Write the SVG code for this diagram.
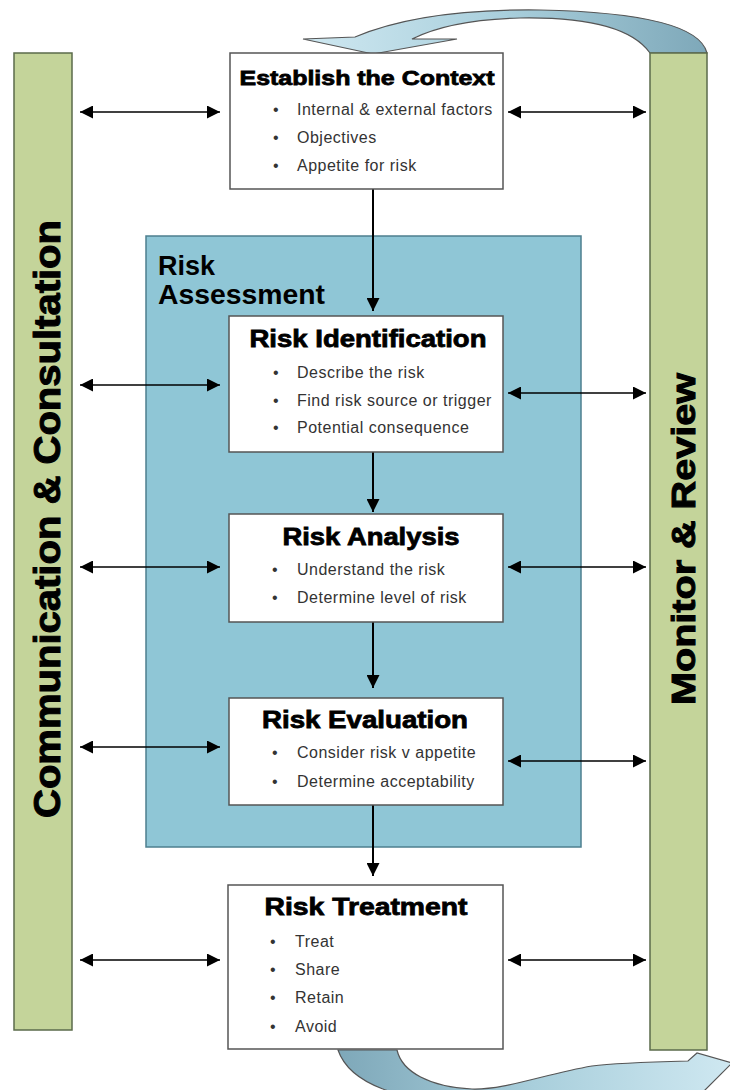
<svg xmlns="http://www.w3.org/2000/svg" width="730" height="1090" viewBox="0 0 730 1090">
<defs>
<linearGradient id="gTop" x1="0" y1="0" x2="1" y2="0">
<stop offset="0" stop-color="#cfe8f1"/>
<stop offset="0.5" stop-color="#a9cfdc"/>
<stop offset="1" stop-color="#7ea8b9"/>
</linearGradient>
<linearGradient id="gBot" x1="0" y1="0" x2="1" y2="0">
<stop offset="0" stop-color="#7ea8b9"/>
<stop offset="0.5" stop-color="#a9cfdc"/>
<stop offset="1" stop-color="#cfe8f1"/>
</linearGradient>
<marker id="ah" markerUnits="userSpaceOnUse" markerWidth="14" markerHeight="13" refX="13" refY="6.5" orient="auto-start-reverse">
<path d="M0,0 L13,6.5 L0,13 Z" fill="#000"/>
</marker>
</defs>
<style>
.bar{fill:#c4d49a;stroke:#5b6b4b;stroke-width:1.5}
.box{fill:#fff;stroke:#555;stroke-width:1.5}
.ra{fill:#8fc6d6;stroke:#4d7f8f;stroke-width:1.5}
.curve{stroke:#555;stroke-width:1.2}
.title{font-family:"Liberation Sans",Arial,sans-serif;font-weight:bold;fill:#000;stroke:#000;stroke-width:0.8;text-anchor:middle}
.item{font-family:"Liberation Sans",Arial,sans-serif;font-size:16px;letter-spacing:0.5px;fill:#333}
.side{font-family:"Liberation Sans",Arial,sans-serif;font-weight:bold;fill:#000;stroke:#000;stroke-width:1;text-anchor:middle}
.lab{font-family:"Liberation Sans",Arial,sans-serif;font-weight:bold;font-size:27px;fill:#000}
.con{stroke:#000;stroke-width:1.5;fill:none}
.dc{stroke:#000;stroke-width:2;fill:none}
</style>

<g id="monitor-review">
<path class="curve" fill="url(#gTop)" d="M707,53 C700,25 640,12 540,10 C460,9 400,18 355,37 L303,39 L373,54 L457,39 L412,39 C440,25 480,19 520,18 C580,17 630,25 650,53 Z"/>
<rect class="bar" x="650" y="53" width="57" height="997"/>
<text class="side" transform="translate(695,539) rotate(-90)" font-size="34" textLength="332" lengthAdjust="spacingAndGlyphs">Monitor &amp; Review</text>
</g>

<g id="communication-consultation">
<rect class="bar" x="14" y="53" width="58" height="977"/>
<text class="side" transform="translate(60,519) rotate(-90)" font-size="36" textLength="598" lengthAdjust="spacingAndGlyphs">Communication &amp; Consultation</text>
</g>

<g id="risk-assessment">
<rect class="ra" x="146" y="236" width="435" height="611"/>
<text class="lab" x="158" y="275">Risk</text>
<text class="lab" x="158" y="304" textLength="167" lengthAdjust="spacingAndGlyphs">Assessment</text>
</g>

<g id="cycle-bottom">
<path class="curve" fill="url(#gBot)" d="M338,1050 C350,1085 400,1100 470,1105 L690,1105 L732,1063 L697,1053 L688,1061 C650,1062 615,1063 592,1066 C545,1074 505,1090 472,1089 C430,1087 402,1072 397,1050 Z"/>
</g>

<g id="connectors">
<line class="con" x1="80" y1="112" x2="220" y2="112" marker-start="url(#ah)" marker-end="url(#ah)"/>
<line class="con" x1="508" y1="112" x2="646" y2="112" marker-start="url(#ah)" marker-end="url(#ah)"/>
<line class="con" x1="80" y1="385" x2="220" y2="385" marker-start="url(#ah)" marker-end="url(#ah)"/>
<line class="con" x1="508" y1="393" x2="646" y2="393" marker-start="url(#ah)" marker-end="url(#ah)"/>
<line class="con" x1="80" y1="567" x2="220" y2="567" marker-start="url(#ah)" marker-end="url(#ah)"/>
<line class="con" x1="508" y1="567" x2="646" y2="567" marker-start="url(#ah)" marker-end="url(#ah)"/>
<line class="con" x1="80" y1="747" x2="220" y2="747" marker-start="url(#ah)" marker-end="url(#ah)"/>
<line class="con" x1="508" y1="761" x2="646" y2="761" marker-start="url(#ah)" marker-end="url(#ah)"/>
<line class="con" x1="80" y1="960" x2="220" y2="960" marker-start="url(#ah)" marker-end="url(#ah)"/>
<line class="con" x1="508" y1="960" x2="646" y2="960" marker-start="url(#ah)" marker-end="url(#ah)"/>
<line class="dc" x1="373" y1="189" x2="373" y2="311" marker-end="url(#ah)"/>
<line class="dc" x1="373" y1="452" x2="373" y2="512" marker-end="url(#ah)"/>
<line class="dc" x1="373" y1="622" x2="373" y2="688" marker-end="url(#ah)"/>
<line class="dc" x1="373" y1="805" x2="373" y2="876" marker-end="url(#ah)"/>
</g>

<g id="establish-context">
<rect class="box" x="230" y="53" width="273" height="136"/>
<text class="title" x="367" y="85" font-size="21" textLength="255" lengthAdjust="spacingAndGlyphs">Establish the Context</text>
<text class="item" x="273" y="115">•</text><text class="item" x="297" y="115">Internal &amp; external factors</text>
<text class="item" x="273" y="143">•</text><text class="item" x="297" y="143">Objectives</text>
<text class="item" x="273" y="171">•</text><text class="item" x="297" y="171">Appetite for risk</text>
</g>

<g id="risk-identification">
<rect class="box" x="229" y="316" width="274" height="136"/>
<text class="title" x="368" y="347" font-size="24" textLength="237" lengthAdjust="spacingAndGlyphs">Risk Identification</text>
<text class="item" x="273" y="378">•</text><text class="item" x="297" y="378">Describe the risk</text>
<text class="item" x="273" y="406">•</text><text class="item" x="297" y="406">Find risk source or trigger</text>
<text class="item" x="273" y="433">•</text><text class="item" x="297" y="433">Potential consequence</text>
</g>

<g id="risk-analysis">
<rect class="box" x="229" y="514" width="274" height="108"/>
<text class="title" x="371" y="545" font-size="24" textLength="177" lengthAdjust="spacingAndGlyphs">Risk Analysis</text>
<text class="item" x="272" y="575">•</text><text class="item" x="297" y="575">Understand the risk</text>
<text class="item" x="272" y="603">•</text><text class="item" x="297" y="603">Determine level of risk</text>
</g>

<g id="risk-evaluation">
<rect class="box" x="229" y="698" width="274" height="107"/>
<text class="title" x="365" y="728" font-size="24" textLength="206" lengthAdjust="spacingAndGlyphs">Risk Evaluation</text>
<text class="item" x="272" y="758">•</text><text class="item" x="297" y="758">Consider risk v appetite</text>
<text class="item" x="272" y="787">•</text><text class="item" x="297" y="787">Determine acceptability</text>
</g>

<g id="risk-treatment">
<rect class="box" x="228" y="885" width="275" height="164"/>
<text class="title" x="366" y="915" font-size="24" textLength="203" lengthAdjust="spacingAndGlyphs">Risk Treatment</text>
<text class="item" x="270" y="947">•</text><text class="item" x="295" y="947">Treat</text>
<text class="item" x="270" y="975">•</text><text class="item" x="295" y="975">Share</text>
<text class="item" x="270" y="1003">•</text><text class="item" x="295" y="1003">Retain</text>
<text class="item" x="270" y="1032">•</text><text class="item" x="295" y="1032">Avoid</text>
</g>
</svg>
